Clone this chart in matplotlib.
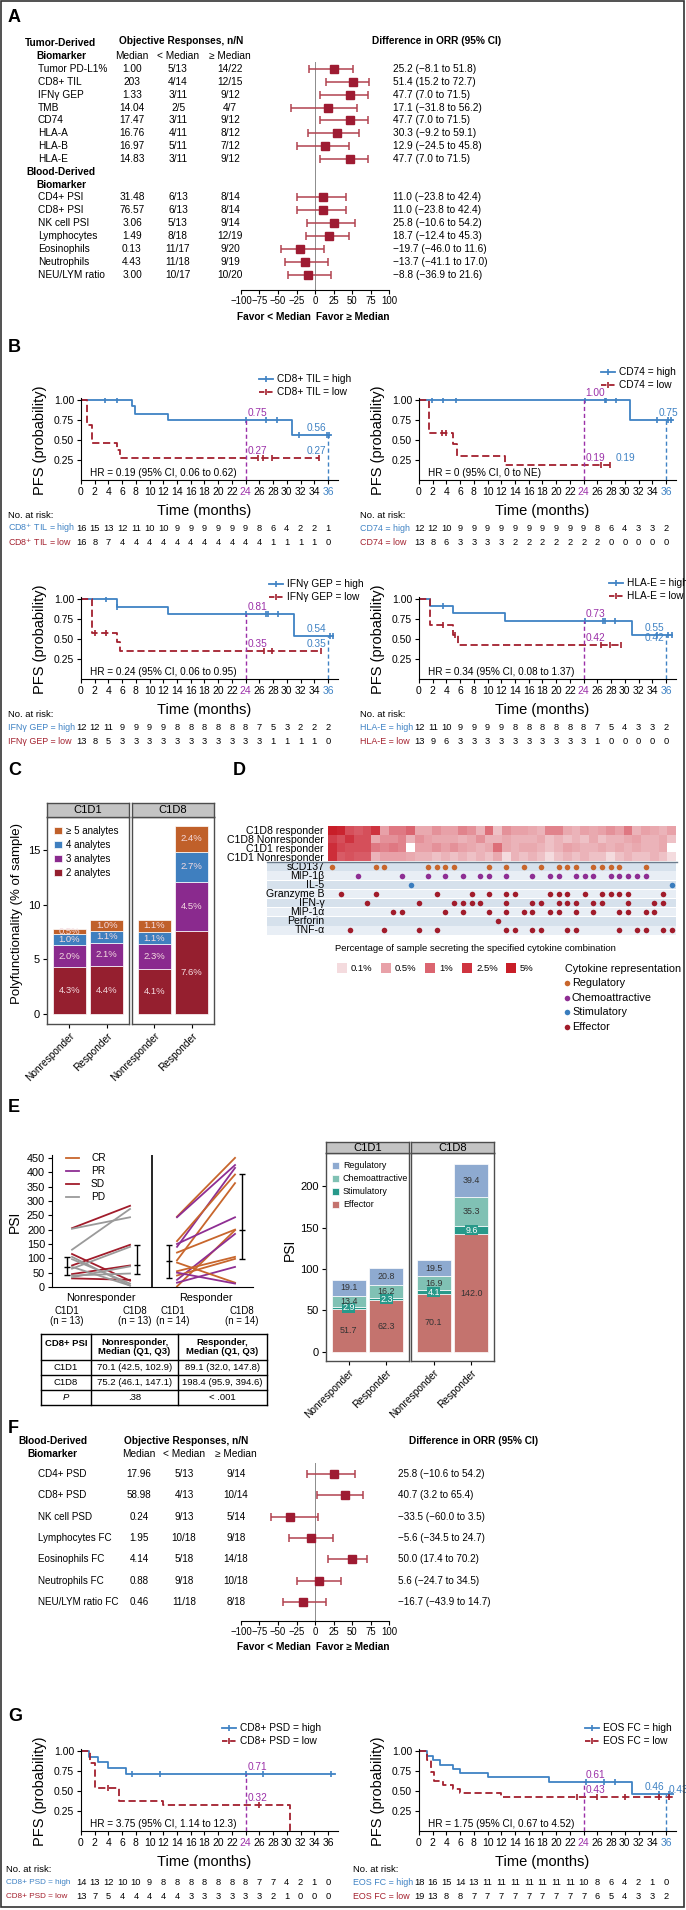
import numpy as np
import matplotlib
matplotlib.use("Agg")
import matplotlib.pyplot as plt
from matplotlib.colors import LinearSegmentedColormap, LogNorm
from matplotlib.patches import Rectangle
from matplotlib import transforms

plt.rcParams['font.family'] = ['Liberation Sans', 'DejaVu Sans']
NARROW = ['Liberation Sans', 'DejaVu Sans']

BLUE = '#3f82c4'
RED = '#a3202e'
PURPLE = '#9b30a8'
FOREST = '#9e1b32'

# ---------------- panel A data ----------------
tumor_labels = ["Tumor PD-L1%", "CD8+ TIL", "IFNγ GEP", "TMB", "CD74", "HLA-A", "HLA-B", "HLA-E"]
tumor_median = ["1.00", "203", "1.33", "14.04", "17.47", "16.76", "16.97", "14.83"]
tumor_below = ["5/13", "4/14", "3/11", "2/5", "3/11", "4/11", "5/11", "3/11"]
tumor_above = ["14/22", "12/15", "9/12", "4/7", "9/12", "8/12", "7/12", "9/12"]
tumor_diff = [25.2, 51.4, 47.7, 17.1, 47.7, 30.3, 12.9, 47.7]
tumor_lo = [-8.1, 15.2, 7.0, -31.8, 7.0, -9.2, -24.5, 7.0]
tumor_hi = [51.8, 72.7, 71.5, 56.2, 71.5, 59.1, 45.8, 71.5]

blood_labels = ["CD4+ PSI", "CD8+ PSI", "NK cell PSI", "Lymphocytes", "Eosinophils", "Neutrophils", "NEU/LYM ratio"]
blood_median = ["31.48", "76.57", "3.06", "1.49", "0.13", "4.43", "3.00"]
blood_below = ["6/13", "6/13", "5/13", "8/18", "11/17", "11/18", "10/17"]
blood_above = ["8/14", "8/14", "9/14", "12/19", "9/20", "9/19", "10/20"]
blood_diff = [11.0, 11.0, 25.8, 18.7, -19.7, -13.7, -8.8]
blood_lo = [-23.8, -23.8, -10.6, -12.4, -46.0, -41.1, -36.9]
blood_hi = [42.4, 42.4, 54.2, 45.3, 11.6, 17.0, 21.6]

# ---------------- panel B / G data (KM) ----------------
months = list(range(0, 37, 2))

cd8til_hi_t = [0, 7.5, 7.9, 12.7, 30.8, 36.4]
cd8til_hi_s = [1, 0.92, 0.83, 0.75, 0.56, 0.56]
cd8til_hi_c = [3.5, 5.3, 24, 27, 28.6, 31.8, 35.8, 36.2]
cd8til_lo_t = [0, 0.9, 1.6, 5.3, 5.7, 34.7]
cd8til_lo_s = [1, 0.69, 0.46, 0.37, 0.27, 0.27]
cd8til_lo_c = [25.8, 26.6, 27.8, 34.7]
cd8til_risk_hi = [16, 15, 13, 12, 11, 10, 10, 9, 9, 9, 9, 9, 9, 8, 6, 4, 2, 2, 1]
cd8til_risk_lo = [16, 8, 7, 4, 4, 4, 4, 4, 4, 4, 4, 4, 4, 4, 1, 1, 1, 1, 0]

cd74_hi_t = [0, 30.8, 37.0]
cd74_hi_s = [1, 0.75, 0.75]
cd74_hi_c = [1.9, 3.5, 5.4, 24.2, 27.1, 27.3, 28.7, 34.7, 36.3, 36.8]
cd74_lo_t = [0, 1.5, 5.0, 5.6, 12.6, 27.8]
cd74_lo_s = [1, 0.59, 0.45, 0.30, 0.19, 0.19]
cd74_lo_c = [3.4, 4.0, 26.5, 27.8]
cd74_risk_hi = [12, 12, 10, 9, 9, 9, 9, 9, 9, 9, 9, 9, 9, 8, 6, 4, 3, 3, 2]
cd74_risk_lo = [13, 8, 6, 3, 3, 3, 3, 2, 2, 2, 2, 2, 2, 2, 0, 0, 0, 0, 0]

ifn_hi_t = [0, 5.2, 12.7, 31.0, 36.8]
ifn_hi_s = [1, 0.90, 0.81, 0.54, 0.54]
ifn_hi_c = [3.6, 5.3, 24, 27, 27.3, 28.7, 36.3, 36.7]
ifn_lo_t = [0, 1.6, 5.3, 5.7, 35.0]
ifn_lo_s = [1, 0.58, 0.46, 0.35, 0.35]
ifn_lo_c = [2.1, 3.6, 26.7, 27.9, 35.0]
ifn_risk_hi = [12, 12, 11, 9, 9, 9, 9, 8, 8, 8, 8, 8, 8, 7, 5, 3, 2, 2, 2]
ifn_risk_lo = [13, 8, 5, 3, 3, 3, 3, 3, 3, 3, 3, 3, 3, 3, 1, 1, 1, 1, 0]

hlae_hi_t = [0, 1.6, 5.0, 12.6, 31.0, 36.9]
hlae_hi_s = [1, 0.91, 0.82, 0.73, 0.55, 0.55]
hlae_hi_c = [3.5, 24.2, 26.8, 27.1, 28.6, 34.7, 36.3, 36.9]
hlae_lo_t = [0, 1.65, 5.0, 5.7, 29.5]
hlae_lo_s = [1, 0.67, 0.55, 0.42, 0.42]
hlae_lo_c = [3.5, 5.2, 26.6, 27.8, 29.5]
hlae_risk_hi = [12, 11, 10, 9, 9, 9, 9, 8, 8, 8, 8, 8, 8, 7, 5, 4, 3, 3, 2]
hlae_risk_lo = [13, 9, 6, 3, 3, 3, 3, 3, 3, 3, 3, 3, 3, 1, 0, 0, 0, 0, 0]

psd_hi_t = [0, 1.2, 2.5, 4.0, 6.5, 37.0]
psd_hi_s = [1, 0.93, 0.86, 0.79, 0.71, 0.71]
psd_hi_c = [7.5, 11.5, 24, 26.5, 36.5]
psd_lo_t = [0, 1.3, 2.0, 5.5, 12.0, 30.5]
psd_lo_s = [1, 0.85, 0.54, 0.38, 0.32, 0.0]
psd_lo_c = [4.0, 26.0]
psd_risk_hi = [14, 13, 12, 10, 10, 9, 8, 8, 8, 8, 8, 8, 8, 7, 7, 4, 2, 1, 0]
psd_risk_lo = [13, 7, 5, 4, 4, 4, 4, 4, 3, 3, 3, 3, 3, 3, 2, 1, 0, 0, 0]

eos_hi_t = [0, 1.2, 2.0, 3.0, 5.0, 6.0, 10.0, 19.0, 31.0, 37.0]
eos_hi_s = [1, 0.94, 0.89, 0.83, 0.78, 0.72, 0.67, 0.61, 0.46, 0.46]
eos_hi_c = [24.3, 27, 28.5, 35, 36.5]
eos_lo_t = [0, 1.2, 1.8, 2.2, 3.5, 5.0, 6.0, 12.0, 37.0]
eos_lo_s = [1, 0.89, 0.74, 0.63, 0.58, 0.53, 0.47, 0.43, 0.43]
eos_lo_c = [23, 26, 30, 35, 36.5]
eos_risk_hi = [18, 16, 15, 14, 13, 11, 11, 11, 11, 11, 11, 11, 10, 8, 6, 4, 2, 1, 0]
eos_risk_lo = [19, 13, 8, 8, 7, 7, 7, 7, 7, 7, 7, 7, 7, 6, 5, 4, 3, 3, 2]

# ---------------- panel C data ----------------
analytes = ["2 analytes", "3 analytes", "4 analytes", "≥ 5 analytes"]
analyte_colors = ['#951f2f', '#8a2a8e', '#3f7fbf', '#c0602a']
groups = ["Nonresponder", "Responder"]
poly_c1d1 = [[4.3, 2.0, 1.0, 0.5], [4.4, 2.1, 1.1, 1.0]]
poly_c1d8 = [[4.1, 2.3, 1.1, 1.1], [7.6, 4.5, 2.7, 2.4]]

# ---------------- panel D data ----------------
heat_rows = ["C1D8 responder", "C1D8 Nonresponder", "C1D1 responder", "C1D1 Nonresponder"]
heat_vals = [
    [5.0, 4.0, 1.5, 1.2, 1.5, 2.5, 0.5, 0.8, 0.8, 1.0, 0.4, 0.4, 0.6, 0.5, 0.5, 0.7, 0.6, 0.3, 0.9, 0.2,
     0.6, 0.5, 0.5, 0.4, 0.3, 0.7, 0.7, 0.4, 0.3, 0.5, 0.4, 0.5, 0.6, 0.5, 0.8, 0.3, 0.5, 0.4, 0.3, 0.5],
    [2.0, 1.5, 2.5, 1.5, 1.5, 0.4, 0.6, 0.6, 0.7, 0.3, 0.6, 0.5, 0.4, 0.4, 0.4, 0.3, 0.4, 0.6, 0.3, 0.3,
     0.4, 0.3, 0.3, 0.3, 0.4, 0.2, 0.3, 0.2, 0.3, 0.2, 0.4, 0.2, 0.3, 0.3, 0.4, 0.5, 0.3, 0.3, 0.4, 0.2],
    [3.0, 1.8, 1.5, 1.5, 1.5, 0.8, 0.7, 0.8, 0.7, 0.0, 0.5, 0.5, 0.6, 0.5, 0.6, 0.5, 0.4, 0.3, 0.4, 0.9,
     0.4, 0.3, 0.4, 0.4, 0.3, 0.2, 0.3, 0.5, 0.4, 0.3, 0.3, 0.4, 0.3, 0.4, 0.3, 0.4, 0.3, 0.3, 0.4, 0.0],
    [3.0, 1.2, 1.4, 1.2, 1.2, 0.3, 0.5, 0.5, 0.5, 0.4, 0.3, 0.3, 0.2, 0.3, 0.2, 0.3, 0.2, 0.3, 0.2, 0.4,
     0.1, 0.3, 0.2, 0.3, 0.2, 0.1, 0.2, 0.3, 0.2, 0.3, 0.2, 0.2, 0.1, 0.2, 0.3, 0.2, 0.2, 0.3, 0.2, 0.1],
]
cytokines = ["sCD137", "MIP-1β", "IL-5", "Granzyme B", "IFN-γ", "MIP-1α", "Perforin", "TNF-α"]
cytokine_group = ["Regulatory", "Chemoattractive", "Stimulatory", "Effector",
                  "Effector", "Effector", "Effector", "Effector"]
combo_cols = [
    [0, 5, 6, 11, 12, 13, 14, 18, 20, 22, 24, 26, 27, 28, 30, 31, 32, 33, 36],
    [3, 8, 11, 13, 15, 17, 18, 20, 23, 25, 26, 28, 29, 30, 32, 33, 34, 35, 36],
    [9, 39],
    [1, 5, 12, 16, 18, 20, 21, 25, 26, 27, 29, 31, 32, 33, 34, 38],
    [4, 10, 14, 15, 16, 17, 20, 23, 24, 26, 27, 28, 30, 31, 34, 37, 38],
    [7, 8, 13, 15, 18, 20, 22, 23, 25, 26, 28, 30, 33, 34, 36, 37],
    [19],
    [2, 6, 10, 12, 20, 21, 23, 24, 27, 28, 33, 35, 36, 38, 39],
]
group_names = ["Regulatory", "Chemoattractive", "Stimulatory", "Effector"]
group_colors = ['#c8662c', '#8e2e93', '#3a7dbe', '#a11c2b']
heat_legend = [0.1, 0.5, 1, 2.5, 5]

# ---------------- panel E data ----------------
nonresp_c1d1 = [205, 203, 130, 115, 75, 45, 30, 105, 97, 64, 40, 34, 70]
nonresp_c1d8 = [283, 243, 272, 22, 147, 75, 25, 5, 12, 140, 47, 72, 5]
nonresp_best = ["SD", "PD", "PD", "SD", "SD", "SD", "SD", "PD", "PD", "PD", "PD", "PD", "PD"]
resp_c1d1 = [245, 243, 140, 160, 93, 150, 120, 2, 25, 55, 40, 15, 85, 50]
resp_c1d8 = [450, 425, 415, 392, 362, 243, 200, 198, 185, 105, 98, 70, 15, 12]
resp_best = ["CR", "PR", "PR", "CR", "CR", "PR", "CR", "CR", "PR", "CR", "CR", "PR", "CR", "PR"]
best_names = ["CR", "PR", "SD", "PD"]
best_colors = {'CR': '#c8662c', 'PR': '#8e2e93', 'SD': '#a11c2b', 'PD': '#9a9a9a'}

nonresp_med = [70.1, 75.2]
nonresp_q1 = [42.5, 46.1]
nonresp_q3 = [102.9, 147.1]
resp_med = [89.1, 198.4]
resp_q1 = [32.0, 95.9]
resp_q3 = [147.8, 394.6]
p_values = [".38", "< .001"]

psi_names = ["Effector", "Stimulatory", "Chemoattractive", "Regulatory"]
psi_colors = ['#c4736e', '#27998a', '#80c1b4', '#8eaad0']
psi_c1d1 = [[51.7, 2.9, 13.4, 19.1], [62.3, 2.3, 16.2, 20.8]]
psi_c1d8 = [[70.1, 4.1, 16.9, 19.5], [142.0, 9.6, 35.3, 39.4]]

# ---------------- panel F data ----------------
f_labels = ["CD4+ PSD", "CD8+ PSD", "NK cell PSD", "Lymphocytes FC", "Eosinophils FC", "Neutrophils FC", "NEU/LYM ratio FC"]
f_median = ["17.96", "58.98", "0.24", "1.95", "4.14", "0.88", "0.46"]
f_below = ["5/13", "4/13", "9/13", "10/18", "5/18", "9/18", "11/18"]
f_above = ["9/14", "10/14", "5/14", "9/18", "14/18", "10/18", "8/18"]
f_diff = [25.8, 40.7, -33.5, -5.6, 50.0, 5.6, -16.7]
f_lo = [-10.6, 3.2, -60.0, -34.5, 17.4, -24.7, -43.9]
f_hi = [54.2, 65.4, 3.5, 24.7, 70.2, 34.5, 14.7]

# ======================================================
W, H = 686, 1910
fig = plt.figure(figsize=(W / 100, H / 100), dpi=100)


def axpx(x0, y0, x1, y1):
    return fig.add_axes([x0 / W, 1 - y1 / H, (x1 - x0) / W, (y1 - y0) / H])


ov = axpx(0, 0, W, H)
ov.set_xlim(0, W)
ov.set_ylim(H, 0)
ov.axis('off')
ov.set_zorder(10)
ov.patch.set_alpha(0)


def txt(x, y, s, **kw):
    kw.setdefault('va', 'center')
    return ov.text(x, y, s, **kw)


ov.add_patch(Rectangle((1, 1), 683, 1906, fill=False, ec='#333333', lw=1.2))
for lab, x, y in [('A', 8, 18), ('B', 8, 348), ('C', 8, 770), ('D', 233, 770),
                  ('E', 8, 1107), ('F', 8, 1428), ('G', 8, 1716)]:
    txt(x, y, lab, fontsize=13, fontweight='bold')

TFS = 7.3


def fmt(v):
    return f"{v:.1f}".replace('-', '\u2212')


def forest(y_top, y_axis, ys, diff, lo, hi, fav_y):
    ax = axpx(241, y_top, 389, y_axis)
    ax.set_xlim(-100, 100)
    ax.set_ylim(y_axis, y_top)
    ax.patch.set_alpha(0)
    for sp in ['top', 'right', 'left']:
        ax.spines[sp].set_visible(False)
    ax.axvline(0, color='#8c8c8c', lw=0.7, zorder=0)
    d, l, h = np.array(diff), np.array(lo), np.array(hi)
    ax.errorbar(d, ys, xerr=[d - l, h - d], fmt='s', color=FOREST, ecolor='#b2424f',
                ms=6, capsize=3, elinewidth=1.1, capthick=1.1)
    ticks = np.arange(-100, 101, 25)
    ax.set_xticks(ticks, labels=[str(t).replace('-', '\u2212') for t in ticks],
                  fontfamily=NARROW, fontsize=6.9)
    ax.set_yticks([])
    ax.tick_params(axis='x', length=3, pad=1.5)
    txt(311, fav_y, "Favor < Median", ha='right', fontsize=7.3, fontweight='bold')
    txt(316, fav_y, "Favor \u2265 Median", ha='left', fontsize=7.3, fontweight='bold')


def table_rows(ys, names, med, below, above, diff, lo, hi, cols, fs):
    for y, n, m, b, a, d, l, h in zip(ys, names, med, below, above, diff, lo, hi):
        txt(cols[0], y, n, fontsize=fs)
        txt(cols[1], y, m, ha='center', fontsize=fs)
        txt(cols[2], y, b, ha='center', fontsize=fs)
        txt(cols[3], y, a, ha='center', fontsize=fs)
        txt(cols[4], y, f"{fmt(d)} ({fmt(l)} to {fmt(h)})", fontsize=fs)


# ---------------- panel A ----------------
bold = dict(fontsize=TFS, fontweight='bold')
txt(25, 43, "Tumor-Derived", **bold)
txt(36, 56, "Biomarker", **bold)
txt(181, 41, "Objective Responses, n/N", ha='center', **bold)
txt(437, 41, "Difference in ORR (95% CI)", ha='center', **bold)
for x, s in [(132, "Median"), (178, "< Median"), (230, "\u2265 Median")]:
    txt(x, 56, s, ha='center', fontsize=TFS)
slot_y = lambda k: 69 + 12.85 * k
ys_t = [slot_y(k) for k in range(8)]
ys_b = [slot_y(k) for k in range(10, 17)]
txt(26, slot_y(8), "Blood-Derived", **bold)
txt(36, slot_y(9), "Biomarker", **bold)
colsA = [38, 132, 178, 230, 393]
table_rows(ys_t, tumor_labels, tumor_median, tumor_below, tumor_above, tumor_diff, tumor_lo, tumor_hi, colsA, TFS)
table_rows(ys_b, blood_labels, blood_median, blood_below, blood_above, blood_diff, blood_lo, blood_hi, colsA, TFS)
forest(62, 290, ys_t + ys_b, tumor_diff + blood_diff, tumor_lo + blood_lo, tumor_hi + blood_hi, 317)

# ---------------- KM helpers ----------------
PXM, PXS = 6.86, 80


def step_at(t, s, q):
    idx = np.searchsorted(t, q, side='right') - 1
    return np.asarray(s)[idx]


def km_plot(x0, y100, hi, lo, notes, hr, line36, blue36):
    ax = axpx(x0, y100 - 0.03 * PXS, x0 + 37.4 * PXM, y100 + PXS)
    ax.set_xlim(0, 37.4)
    ax.set_ylim(0, 1.03)
    dash = (0, (4, 2))
    for (t, s, c), col, ls in [(hi, BLUE, '-'), (lo, RED, dash)]:
        ax.step(t, s, where='post', color=col, lw=1.3, ls=ls)
        ax.plot(c, step_at(t, s, c), ls='none', marker='|', ms=5, mew=1.2, color=col)
    s24 = step_at(hi[0], hi[1], [24])[0]
    ax.plot([24, 24], [0, s24], color=PURPLE, ls=(0, (3, 2)), lw=1)
    if line36:
        s36 = step_at(hi[0], hi[1], [36])[0]
        ax.plot([36, 36], [0, s36], color=BLUE, ls=(0, (3, 2)), lw=1)
    for t, s, text, c, ha in notes:
        ax.text(t, s + 0.025, text, color=c, ha=ha, va='bottom', fontsize=7.3)
    ax.text(1.3, 0.09, hr, fontsize=7.2, va='center')
    ax.set_xticks(months, labels=[str(m) for m in months])
    ax.set_yticks([0.25, 0.5, 0.75, 1.0], labels=['0.25', '0.50', '0.75', '1.00'])
    ax.tick_params(labelsize=7.5, length=3, pad=2)
    for sp in ['top', 'right']:
        ax.spines[sp].set_visible(False)
    labs = ax.get_xticklabels()
    labs[12].set_color(PURPLE)
    if blue36:
        labs[18].set_color(BLUE)
    txt(x0 + 123.5, y100 + PXS + 31, "Time (months)", ha='center', fontsize=10.5)
    txt(x0 - 41, y100 + 40, "PFS (probability)", ha='center', rotation=90, fontsize=10.5)
    return ax


def km_legend(xh, y, names):
    for yy, name, c, ls in zip([y, y + 13], names, [BLUE, RED], ['-', (0, (3, 1.5))]):
        ov.plot([xh, xh + 14], [yy, yy], color=c, lw=1.3, ls=ls)
        ov.plot([xh + 7], [yy], marker='|', color=c, ms=5, mew=1.2)
        txt(xh + 18, yy, name, fontsize=7.3)


def risk(ax, xlab, y0, names, high, low, lfs=6.4):
    tr = transforms.blended_transform_factory(ax.transData, ov.transData)
    txt(xlab, y0, "No. at risk:", fontsize=6.8)
    for yy, name, vals, c in zip([y0 + 13, y0 + 27], names, [high, low], [BLUE, RED]):
        txt(xlab, yy, name, color=c, fontsize=lfs)
        for t, v in zip(months, vals):
            ov.text(t, yy, str(v), transform=tr, ha='center', va='center', fontsize=6.7)


# ---------------- panel B ----------------
ax = km_plot(81, 400, (cd8til_hi_t, cd8til_hi_s, cd8til_hi_c), (cd8til_lo_t, cd8til_lo_s, cd8til_lo_c),
             [(24.3, 0.75, "0.75", PURPLE, 'left'), (24.3, 0.27, "0.27", PURPLE, 'left'),
              (35.8, 0.56, "0.56", BLUE, 'right'), (35.8, 0.27, "0.27", BLUE, 'right')],
             "HR = 0.19 (95% CI, 0.06 to 0.62)", True, True)
km_legend(259, 379, ["CD8+ TIL = high", "CD8+ TIL = low"])
risk(ax, 8, 515, ["CD8$^{+}$ TIL = high", "CD8$^{+}$ TIL = low"], cd8til_risk_hi, cd8til_risk_lo)

ax = km_plot(419, 400, (cd74_hi_t, cd74_hi_s, cd74_hi_c), (cd74_lo_t, cd74_lo_s, cd74_lo_c),
             [(24.3, 1.0, "1.00", PURPLE, 'left'), (24.3, 0.19, "0.19", PURPLE, 'left'),
              (28.6, 0.19, "0.19", BLUE, 'left'), (36.3, 0.75, "0.75", BLUE, 'center')],
             "HR = 0 (95% CI, 0 to NE)", True, True)
km_legend(601, 372, ["CD74 = high", "CD74 = low"])
risk(ax, 360, 515, ["CD74 = high", "CD74 = low"], cd74_risk_hi, cd74_risk_lo)

ax = km_plot(81, 599, (ifn_hi_t, ifn_hi_s, ifn_hi_c), (ifn_lo_t, ifn_lo_s, ifn_lo_c),
             [(24.3, 0.81, "0.81", PURPLE, 'left'), (24.3, 0.35, "0.35", PURPLE, 'left'),
              (35.8, 0.54, "0.54", BLUE, 'right'), (35.8, 0.35, "0.35", BLUE, 'right')],
             "HR = 0.24 (95% CI, 0.06 to 0.95)", True, True)
km_legend(269, 584, ["IFNγ GEP = high", "IFNγ GEP = low"])
risk(ax, 8, 714, ["IFNγ GEP = high", "IFNγ GEP = low"], ifn_risk_hi, ifn_risk_lo)

ax = km_plot(419, 599, (hlae_hi_t, hlae_hi_s, hlae_hi_c), (hlae_lo_t, hlae_lo_s, hlae_lo_c),
             [(24.3, 0.73, "0.73", PURPLE, 'left'), (24.3, 0.42, "0.42", PURPLE, 'left'),
              (35.8, 0.55, "0.55", BLUE, 'right'), (35.8, 0.42, "0.42", BLUE, 'right')],
             "HR = 0.34 (95% CI, 0.08 to 1.37)", True, True)
km_legend(609, 583, ["HLA-E = high", "HLA-E = low"])
risk(ax, 360, 714, ["HLA-E = high", "HLA-E = low"], hlae_risk_hi, hlae_risk_lo)


# ---------------- panel C ----------------
def strip(x0, y0, x1, y1, label):
    s = axpx(x0, y0, x1, y1)
    s.set_facecolor('#c4c4c4')
    s.set_xticks([])
    s.set_yticks([])
    for sp in s.spines.values():
        sp.set_color('#4d4d4d')
        sp.set_linewidth(1)
    s.text(0.5, 0.5, label, ha='center', va='center', transform=s.transAxes, fontsize=8)


def facet(x0, x1, y0, y1, ylim, vals, names, colors, yticks, labfmt, labcol, lfs):
    ax = axpx(x0, y0, x1, y1)
    ax.set_xlim(-0.6, 1.6)
    ax.set_ylim(*ylim)
    for j, v in enumerate(vals):
        bottom = 0
        for k, seg in enumerate(v):
            ax.bar(j, seg, bottom=bottom, width=0.9, color=colors[k], edgecolor='white', lw=0.5,
                   label=names[k])
            lc = labcol(k)
            kw = {}
            if isinstance(lc, tuple):
                lc, kw = lc
            ax.text(j, bottom + seg / 2, labfmt(seg), ha='center', va='center', fontsize=lfs, color=lc, **kw)
            bottom += seg
    for sp in ax.spines.values():
        sp.set_color('#4d4d4d')
        sp.set_linewidth(1)
    ax.set_xticks([0, 1], labels=groups, rotation=45, ha='right', rotation_mode='anchor', fontsize=7.3)
    if yticks is not None:
        ax.set_yticks(yticks)
        ax.tick_params(axis='y', labelsize=8, length=3, pad=2)
    else:
        ax.set_yticks([])
    ax.tick_params(axis='x', length=3, pad=2)
    return ax


axc1 = facet(47, 129, 817, 1024, (-0.9, 18.0), poly_c1d1, analytes, analyte_colors, [0, 5, 10, 15],
             lambda v: f"{v:.1f}%", lambda k: '#f4dbe0', 6.8)
facet(132, 214, 817, 1024, (-0.9, 18.0), poly_c1d8, analytes, analyte_colors, None,
      lambda v: f"{v:.1f}%", lambda k: '#f4dbe0', 6.8)
strip(47, 803, 129, 817, "C1D1")
strip(132, 803, 214, 817, "C1D8")
txt(17, 913, "Polyfunctionality (% of sample)", rotation=90, ha='center', fontsize=9.5)
h, l = axc1.get_legend_handles_labels()
axc1.legend(h[:4][::-1], l[:4][::-1], loc='upper left', bbox_to_anchor=(0.0, 0.99), frameon=False,
            fontsize=7, handlelength=0.8, handleheight=0.8, handletextpad=0.5, labelspacing=0.42,
            borderaxespad=0.3)

# ---------------- panel D ----------------
lo_v, hi_v = 0.08, 5.0
norm = LogNorm(vmin=lo_v, vmax=hi_v)
pos = [0, float(norm(0.1)), float(norm(0.5)), float(norm(1)), float(norm(2.5)), 1]
cmap = LinearSegmentedColormap.from_list(
    'heat', list(zip(pos, ['#fbeef0', '#f4dadd', '#e8a1a8', '#db6570', '#cf3440', '#c81e28'])))
cmap.set_bad('white')
hv = np.ma.masked_less_equal(np.array(heat_vals), 0)
axh = axpx(328, 826, 676, 861)
axh.imshow(hv, cmap=cmap, norm=norm, aspect='auto', interpolation='nearest',
           extent=(-0.5, 39.5, 3.5, -0.5))
axh.set_xlim(-0.5, 39.5)
axh.set_xticks([])
axh.set_yticks(range(4), labels=heat_rows, fontsize=7.6)
axh.tick_params(axis='y', length=0, pad=3)
for sp in axh.spines.values():
    sp.set_visible(False)

axd = axpx(267, 862, 676, 935)
axd.set_xlim(-7.5, 39.5)
axd.set_ylim(7.5, -0.5)
axd.axis('off')
for i in range(len(cytokines)):
    axd.axhspan(i - 0.46, i + 0.46, color='#d6e1ec' if i % 2 == 0 else '#e8eef5', lw=0)
    axd.text(-0.9, i, cytokines[i], ha='right', va='center', fontsize=7.6)
    c = group_colors[group_names.index(cytokine_group[i])]
    axd.plot(combo_cols[i], [i] * len(combo_cols[i]), 'o', color=c, ms=4, mec='none')
ov.plot([267, 677], [862, 862], color='#6b7b8c', lw=1)

txt(335, 948, "Percentage of sample secreting the specified cytokine combination", fontsize=6.8)
for x, v in zip([337, 381, 425, 462, 506], heat_legend):
    ov.add_patch(Rectangle((x, 963), 10, 10, color=cmap(norm(v)), lw=0))
    txt(x + 14, 968, f"{v:g}%", fontsize=6.8)
txt(565, 969, "Cytokine representation", fontsize=7.8)
for k, (n, c) in enumerate(zip(group_names, group_colors)):
    ov.plot([567], [983 + 14.6 * k], 'o', color=c, ms=4, mec='none')
    txt(572, 983 + 14.6 * k, n, fontsize=7.8)

# ---------------- panel E (left) ----------------
x_nr = [0, 1]
x_r = [1.81, 2.81]
axe = axpx(52, 1155, 253, 1287)
axe.set_xlim(-0.345, 3.12)
axe.set_ylim(0, 460)
for a, b, r in zip(nonresp_c1d1, nonresp_c1d8, nonresp_best):
    axe.plot(x_nr, [a, b], color=best_colors[r], lw=1.3)
for a, b, r in zip(resp_c1d1, resp_c1d8, resp_best):
    axe.plot(x_r, [a, b], color=best_colors[r], lw=1.3)
eb_x = [x_nr[0] - 0.09, x_nr[1] + 0.12, x_r[0] - 0.14, x_r[1] + 0.12]
eb_m = [nonresp_med[0], nonresp_med[1], resp_med[0], resp_med[1]]
eb_l = [nonresp_q1[0], nonresp_q1[1], resp_q1[0], resp_q1[1]]
eb_h = [nonresp_q3[0], nonresp_q3[1], resp_q3[0], resp_q3[1]]
for x, m, l, hh in zip(eb_x, eb_m, eb_l, eb_h):
    axe.errorbar([x], [m], yerr=[[m - l], [hh - m]], fmt='_', color='black', ms=5, capsize=2.5, lw=1)
axe.axvline(1.38, color='black', lw=1.2)
axe.set_yticks(range(0, 451, 50))
axe.set_xticks([0.5, 2.31], labels=groups, fontsize=7.8)
axe.tick_params(axis='y', labelsize=7.8, length=3, pad=2)
axe.tick_params(axis='x', length=0, pad=4)
for sp in ['top', 'right']:
    axe.spines[sp].set_visible(False)
txt(15, 1222, "PSI", rotation=90, ha='center', fontsize=10)
for k, n in enumerate(best_names):
    yy = 1158 + 13 * k
    ov.plot([66, 79], [yy, yy], color=best_colors[n], lw=1.3)
    txt(91, yy, n, fontsize=7.3)
for x, s in [(67, "C1D1\n(n = 13)"), (135, "C1D8\n(n = 13)"), (173, "C1D1\n(n = 14)"), (242, "C1D8\n(n = 14)")]:
    txt(x, 1316, s, ha='center', fontsize=6.9, linespacing=1.1)

# table
tx = [41, 91, 178, 267]
ty = [1334, 1360, 1375, 1390, 1405]
for x in tx:
    ov.plot([x, x], [ty[0], ty[-1]], color='black', lw=1)
for y in ty:
    ov.plot([tx[0], tx[-1]], [y, y], color='black', lw=1)
cx = [(tx[i] + tx[i + 1]) / 2 for i in range(3)]
txt(cx[0], 1343, "CD8+ PSI", ha='center', fontsize=6.8, fontweight='bold')
txt(cx[1], 1347, "Nonresponder,\nMedian (Q1, Q3)", ha='center', fontsize=6.8, fontweight='bold', linespacing=1.1)
txt(cx[2], 1347, "Responder,\nMedian (Q1, Q3)", ha='center', fontsize=6.8, fontweight='bold', linespacing=1.1)
for i, name in enumerate(["C1D1", "C1D8"]):
    yy = (ty[i + 1] + ty[i + 2]) / 2
    txt(cx[0], yy, name, ha='center', fontsize=6.8)
    txt(cx[1], yy, f"{nonresp_med[i]} ({nonresp_q1[i]}, {nonresp_q3[i]})", ha='center', fontsize=6.8)
    txt(cx[2], yy, f"{resp_med[i]} ({resp_q1[i]}, {resp_q3[i]})", ha='center', fontsize=6.8)
yy = (ty[3] + ty[4]) / 2
txt(cx[0], yy, "P", ha='center', fontsize=6.8, style='italic')
txt(cx[1], yy, p_values[0], ha='center', fontsize=6.8)
txt(cx[2], yy, p_values[1], ha='center', fontsize=6.8)

# ---------------- panel E (right) ----------------
stim = ('white', dict(bbox=dict(boxstyle='square,pad=0.05', fc='#27998a', ec='none')))
axr1 = facet(326, 409, 1153, 1361, (-11, 240), psi_c1d1, psi_names, psi_colors, [0, 50, 100, 150, 200],
             lambda v: f"{v:.1f}", lambda k: stim if k == 1 else '#333333', 6.4)
facet(411, 494, 1153, 1361, (-11, 240), psi_c1d8, psi_names, psi_colors, None,
      lambda v: f"{v:.1f}", lambda k: stim if k == 1 else '#333333', 6.4)
strip(326, 1142, 409, 1153, "C1D1")
strip(411, 1142, 494, 1153, "C1D8")
txt(290, 1250, "PSI", rotation=90, ha='center', fontsize=10)
h, l = axr1.get_legend_handles_labels()
axr1.legend(h[:4][::-1], l[:4][::-1], loc='upper left', bbox_to_anchor=(0.0, 0.99), frameon=False,
            fontsize=6.4, handlelength=0.8, handleheight=0.8, handletextpad=0.4, labelspacing=0.45,
            borderaxespad=0.3)

# ---------------- panel F ----------------
txt(18, 1441, "Blood-Derived", **bold)
txt(27, 1454, "Biomarker", **bold)
txt(186, 1441, "Objective Responses, n/N", ha='center', **bold)
txt(474, 1441, "Difference in ORR (95% CI)", ha='center', **bold)
for x, s in [(139, "Median"), (184, "< Median"), (236, "\u2265 Median")]:
    txt(x, 1454, s, ha='center', fontsize=TFS)
ys_f = [1474 + 21.3 * k for k in range(7)]
table_rows(ys_f, f_labels, f_median, f_below, f_above, f_diff, f_lo, f_hi, [38, 139, 184, 236, 398], 7.1)
forest(1463, 1621, ys_f, f_diff, f_lo, f_hi, 1647)

# ---------------- panel G ----------------
ax = km_plot(81, 1751, (psd_hi_t, psd_hi_s, psd_hi_c), (psd_lo_t, psd_lo_s, psd_lo_c),
             [(24.3, 0.71, "0.71", PURPLE, 'left'), (24.3, 0.32, "0.32", PURPLE, 'left')],
             "HR = 3.75 (95% CI, 1.14 to 12.3)", False, False)
km_legend(222, 1728, ["CD8+ PSD = high", "CD8+ PSD = low"])
risk(ax, 6, 1869, ["CD8+ PSD = high", "CD8+ PSD = low"], psd_risk_hi, psd_risk_lo, lfs=5.9)

ax = km_plot(419, 1751, (eos_hi_t, eos_hi_s, eos_hi_c), (eos_lo_t, eos_lo_s, eos_lo_c),
             [(24.3, 0.61, "0.61", PURPLE, 'left'), (24.3, 0.43, "0.43", PURPLE, 'left'),
              (35.8, 0.46, "0.46", BLUE, 'right'), (36.4, 0.43, "0.43", BLUE, 'left')],
             "HR = 1.75 (95% CI, 0.67 to 4.52)", True, True)
km_legend(585, 1728, ["EOS FC = high", "EOS FC = low"])
risk(ax, 353, 1869, ["EOS FC = high", "EOS FC = low"], eos_risk_hi, eos_risk_lo)

fig.savefig("out.png", dpi=100)
